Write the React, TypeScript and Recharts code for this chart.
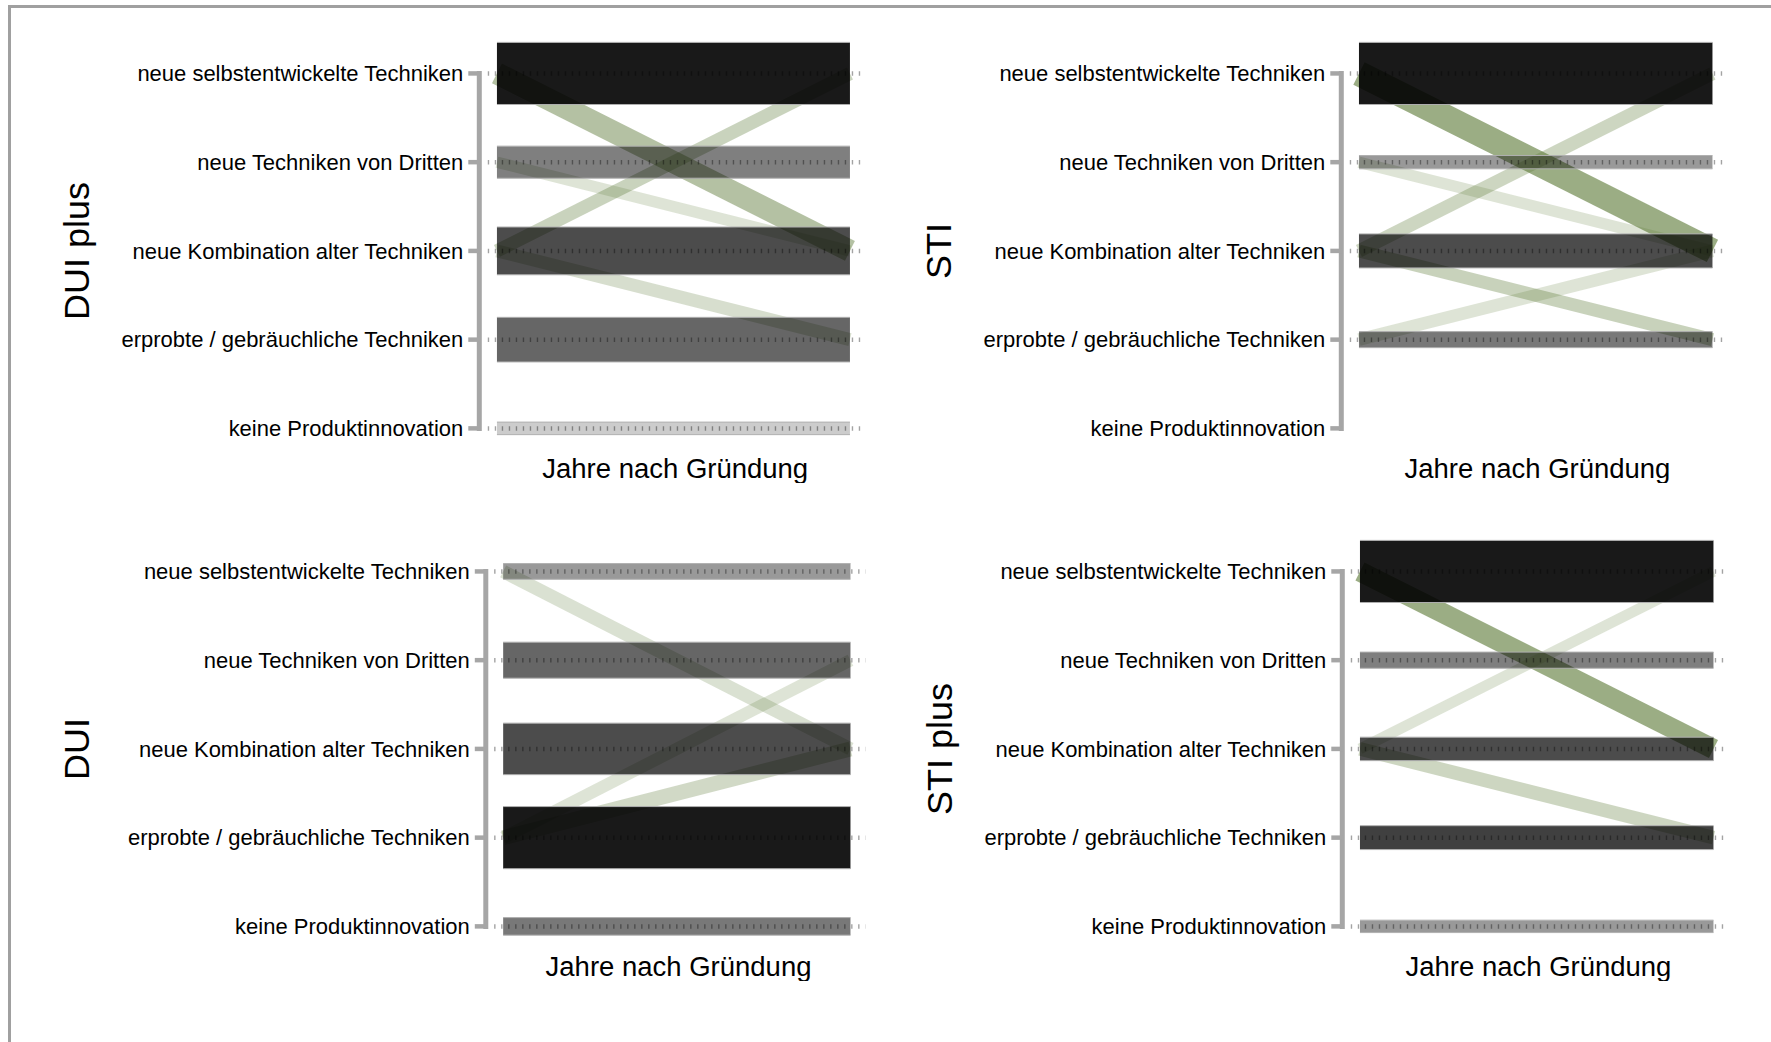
import { ComposedChart, Line, Area, XAxis, YAxis, ReferenceLine } from 'recharts'

const FONT = '"Liberation Sans", Arial, sans-serif'

// Levels from bottom (0) to top (4)
const levels = [
  'keine Produktinnovation',
  'erprobte / gebräuchliche Techniken',
  'neue Kombination alter Techniken',
  'neue Techniken von Dritten',
  'neue selbstentwickelte Techniken',
]

// DUI plus – share of firms per level (%) and grey intensity
const duiPlusShare = [6.3, 22.4, 24.0, 16.1, 31.2]
const duiPlusShade = [0.2, 0.6, 0.7, 0.5, 0.9]
const duiPlusFlowFrom = [4, 2, 3, 2]
const duiPlusFlowTo = [2, 4, 2, 1]
const duiPlusFlowShare = [11.1, 6.7, 5.7, 6.5]
const duiPlusFlowAlpha = [0.45, 0.32, 0.2, 0.24]

// STI
const stiShare = [0, 12.8, 27.1, 10.6, 49.5]
const stiShade = [0, 0.53, 0.7, 0.4, 0.9]
const stiFlowFrom = [4, 2, 3, 2, 1]
const stiFlowTo = [2, 4, 2, 1, 2]
const stiFlowShare = [20.0, 10.7, 9.0, 10.3, 10.1]
const stiFlowAlpha = [0.6, 0.3, 0.2, 0.33, 0.2]

// DUI
const duiShare = [9.6, 34.0, 28.2, 19.7, 8.6]
const duiShade = [0.53, 0.9, 0.7, 0.6, 0.4]
const duiFlowFrom = [4, 1, 1]
const duiFlowTo = [2, 3, 2]
const duiFlowShare = [7.3, 6.8, 8.2]
const duiFlowAlpha = [0.22, 0.2, 0.28]

// STI plus
const stiPlusShare = [9.0, 17.3, 17.0, 11.7, 45.0]
const stiPlusShade = [0.4, 0.75, 0.7, 0.5, 0.9]
const stiPlusFlowFrom = [4, 2, 2]
const stiPlusFlowTo = [2, 4, 1]
const stiPlusFlowShare = [14.6, 7.8, 9.9]
const stiPlusFlowAlpha = [0.6, 0.2, 0.3]

const X_MIN = -0.05
const X_MAX = 1.06
const DOT_START = -0.026
const DOT_END = 1.043
const Y_MIN = -0.3
const Y_MAX = 4.45
const BAR_MAX = 0.7 // thickest bar in y units
const CHART_H = 483
const MARGIN_TOP = 33.5
const X_AXIS_H = 28
const PX_PER_UNIT = (CHART_H - MARGIN_TOP - X_AXIS_H) / (Y_MAX - Y_MIN)
const AXIS_GREY = '#a6a6a6'
const FLOW_GREEN = '#587632'

function YTitle(props: any) {
  const { viewBox, text } = props
  const cx = viewBox.x + 77
  const cy = viewBox.y + (viewBox.height * (Y_MAX - 2)) / (Y_MAX - Y_MIN)
  return (
    <text x={cx} y={cy} transform={`rotate(-90 ${cx} ${cy})`} textAnchor="middle" dominantBaseline="central"
      fontSize={36} fontFamily={FONT} fill="#000">
      {text}
    </text>
  )
}

function XTitle(props: any) {
  const { viewBox, text } = props
  const cx = viewBox.x + viewBox.width / 2
  const cy = viewBox.y + viewBox.height / 2
  return (
    <text x={cx} y={cy} textAnchor="middle" dominantBaseline="central" fontSize={27.5} fontFamily={FONT} fill="#000">
      {text}
    </text>
  )
}

interface PanelProps {
  title: string
  share: number[]
  shade: number[]
  flowFrom: number[]
  flowTo: number[]
  flowShare: number[]
  flowAlpha: number[]
  left: number
  top: number
  axisWidth: number
  unitWidth: number
}

function Panel({ title, share, shade, flowFrom, flowTo, flowShare, flowAlpha, left, top, axisWidth, unitWidth }: PanelProps) {
  const maxShare = Math.max(...share)
  const thickness = (v: number) => (v / maxShare) * BAR_MAX

  // two rows: start (x=0) and end (x=1)
  const data = [0, 1].map((x) => {
    const row: Record<string, any> = { x }
    share.forEach((v, lvl) => {
      if (v > 0) row[`bar${lvl}`] = [lvl - thickness(v) / 2, lvl + thickness(v) / 2]
    })
    flowFrom.forEach((f, k) => {
      row[`flow${k}`] = x === 0 ? f : flowTo[k]
    })
    return row
  })

  const plotWidth = (X_MAX - X_MIN) * unitWidth
  const width = axisWidth + plotWidth + 10

  return (
    <div style={{ position: 'absolute', left, top }}>
      <ComposedChart width={width} height={CHART_H} data={data} margin={{ top: MARGIN_TOP, right: 10, bottom: 0, left: 0 }}>
        <XAxis
          type="number"
          dataKey="x"
          domain={[X_MIN, X_MAX]}
          allowDataOverflow
          tick={false}
          axisLine={false}
          tickLine={false}
          height={X_AXIS_H}
          label={<XTitle text="Jahre nach Gründung" />}
        />
        <YAxis
          type="number"
          domain={[Y_MIN, Y_MAX]}
          allowDataOverflow
          ticks={[0, 1, 2, 3, 4]}
          interval={0}
          tickFormatter={(v: number) => levels[v]}
          axisLine={false}
          stroke={AXIS_GREY}
          strokeWidth={4.5}
          tickLine={{ stroke: AXIS_GREY, strokeWidth: 4.5 }}
          tickSize={11}
          tickMargin={5}
          width={axisWidth}
          tick={{ fontSize: 22, fill: '#000', fontFamily: FONT }}
          label={<YTitle text={title} />}
        />
        {flowFrom.map((_, k) => (
          <Line
            key={`flow${k}`}
            dataKey={`flow${k}`}
            type="linear"
            stroke={FLOW_GREEN}
            strokeOpacity={flowAlpha[k]}
            strokeWidth={thickness(flowShare[k]) * PX_PER_UNIT}
            dot={false}
            activeDot={false}
            isAnimationActive={false}
            zIndex={200}
          />
        ))}
        {share.map((v, lvl) =>
          v > 0 ? (
            <Area
              key={`bar${lvl}`}
              dataKey={`bar${lvl}`}
              type="linear"
              fill="#000"
              fillOpacity={shade[lvl]}
              stroke="#b0b0b0"
              strokeWidth={1}
              dot={false}
              activeDot={false}
              isAnimationActive={false}
              zIndex={300}
            />
          ) : null
        )}
        {share.map((v, lvl) =>
          v > 0 ? (
            <ReferenceLine
              key={`dot${lvl}`}
              segment={[{ x: DOT_START, y: lvl }, { x: DOT_END, y: lvl }]}
              stroke="#000"
              strokeOpacity={0.36}
              strokeWidth={4.5}
              strokeDasharray="1.4 5.6"
              ifOverflow="visible"
            />
          ) : null
        )}
        <ReferenceLine
          segment={[{ x: X_MIN, y: 0 }, { x: X_MIN, y: 4 }]}
          stroke={AXIS_GREY}
          strokeWidth={5}
          strokeLinecap="square"
          ifOverflow="visible"
        />
      </ComposedChart>
    </div>
  )
}

export default function App() {
  return (
    <div style={{ position: 'absolute', left: 0, top: 0, width: 1771, height: 1042, overflow: 'hidden', background: '#fff' }}>
      <div style={{ position: 'absolute', left: 8, top: 5, width: 2000, height: 2000, border: '3px solid #a0a0a0' }} />
      <Panel title="DUI plus" share={duiPlusShare} shade={duiPlusShade} flowFrom={duiPlusFlowFrom} flowTo={duiPlusFlowTo}
        flowShare={duiPlusFlowShare} flowAlpha={duiPlusFlowAlpha} left={0} top={0} axisWidth={479.3} unitWidth={353} />
      <Panel title="STI" share={stiShare} shade={stiShade} flowFrom={stiFlowFrom} flowTo={stiFlowTo}
        flowShare={stiFlowShare} flowAlpha={stiFlowAlpha} left={862.4} top={0} axisWidth={479.3} unitWidth={353.5} />
      <Panel title="DUI" share={duiShare} shade={duiShade} flowFrom={duiFlowFrom} flowTo={duiFlowTo}
        flowShare={duiFlowShare} flowAlpha={duiFlowAlpha} left={0} top={497.8} axisWidth={485.8} unitWidth={347.3} />
      <Panel title="STI plus" share={stiPlusShare} shade={stiPlusShade} flowFrom={stiPlusFlowFrom} flowTo={stiPlusFlowTo}
        flowShare={stiPlusFlowShare} flowAlpha={stiPlusFlowAlpha} left={863.2} top={497.8} axisWidth={479.3} unitWidth={353.5} />
    </div>
  )
}
